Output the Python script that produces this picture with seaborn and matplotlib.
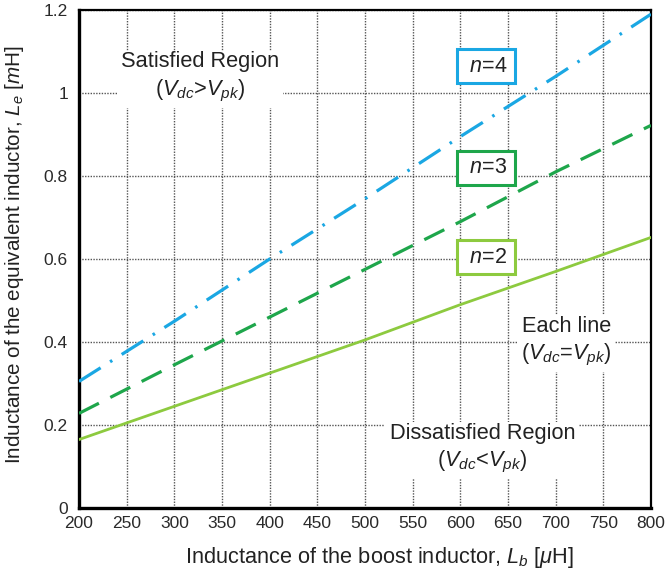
import matplotlib
matplotlib.use("Agg")
import matplotlib.pyplot as plt
import seaborn as sns
import pandas as pd

# Data
Lb = [200, 300, 400, 500, 600, 700, 800]
Le_n4 = [0.305, 0.45, 0.60, 0.745, 0.895, 1.04, 1.19]
Le_n3 = [0.228, 0.345, 0.46, 0.575, 0.69, 0.81, 0.922]
Le_n2 = [0.165, 0.245, 0.325, 0.405, 0.49, 0.57, 0.652]
x_ticks = [200, 250, 300, 350, 400, 450, 500, 550, 600, 650, 700, 750, 800]
y_ticks = [0, 0.2, 0.4, 0.6, 0.8, 1.0, 1.2]
y_tick_labels = ["0", "0.2", "0.4", "0.6", "0.8", "1", "1.2"]

sns.set_theme(style="white")
plt.rcParams['font.family'] = ['Liberation Sans', 'DejaVu Sans']
plt.rcParams['mathtext.fontset'] = 'custom'
plt.rcParams['mathtext.rm'] = 'Liberation Sans'
plt.rcParams['mathtext.it'] = 'Liberation Sans:italic'

fig = plt.figure(figsize=(6.65, 5.71), dpi=100)
ax = fig.add_axes([79/665, 63/571, 572/665, 498/571])

c4 = "#1aa7e3"
c3 = "#1ea64b"
c2 = "#8dca3f"

df4 = pd.DataFrame({"Lb": Lb, "Le": Le_n4})
df3 = pd.DataFrame({"Lb": Lb, "Le": Le_n3})
df2 = pd.DataFrame({"Lb": Lb, "Le": Le_n2})

sns.lineplot(data=df4, x="Lb", y="Le", ax=ax, color=c4, lw=2.3, zorder=3)
ax.lines[-1].set_dashes((8, 3.5, 0.8, 3.5))
sns.lineplot(data=df3, x="Lb", y="Le", ax=ax, color=c3, lw=2.3, zorder=3)
ax.lines[-1].set_dashes((7, 4))
sns.lineplot(data=df2, x="Lb", y="Le", ax=ax, color=c2, lw=2.0, zorder=3)

ax.set_xlim(200, 800)
ax.set_ylim(0, 1.2)
ax.set_xticks(x_ticks)
ax.set_yticks(y_ticks)
ax.set_yticklabels(y_tick_labels)
ax.tick_params(axis='both', labelsize=12.5, length=0, colors="#2a2a2a")
ax.tick_params(axis='x', pad=6)
ax.tick_params(axis='y', pad=8)

ax.grid(True, color="#555555", linestyle=(0, (1, 1)), linewidth=1.0, zorder=0)
for s in ax.spines.values():
    s.set_color("black")
    s.set_linewidth(1.6)
ax.spines['left'].set_linewidth(2.4)
ax.spines['bottom'].set_linewidth(2.4)

ax.set_xlabel(r"Inductance of the boost inductor, $L_b$ [$\mu$H]", fontsize=15.7,
              color="#222222")
ax.xaxis.set_label_coords(0.526, -0.074)
ax.set_ylabel(r"Inductance of the equivalent inductor, $L_e$ [$m$H]", fontsize=14.9,
              color="#222222")
ax.yaxis.set_label_coords(-0.093, 0.508)

wbox = dict(facecolor="white", edgecolor="none", pad=3)
kw = dict(ha="center", va="center", fontsize=15.7, color="#222222", bbox=wbox,
          zorder=4, linespacing=1.3)
ax.text(327, 1.037, "Satisfied Region\n" + r"($V_{dc}$>$V_{pk}$)", **kw)
ax.text(711, 0.40, "Each line\n" + r"($V_{dc}$=$V_{pk}$)", **kw)
ax.text(623, 0.142, "Dissatisfied Region\n" + r"($V_{dc}$<$V_{pk}$)", **kw)

for yy, lab, col in [(1.064, r" $n$=4 ", c4), (0.82, r" $n$=3 ", c3), (0.604, r" $n$=2 ", c2)]:
    ax.text(627, yy, lab, ha="center", va="center", fontsize=15.5, color="#222222",
            zorder=5, bbox=dict(facecolor="white", edgecolor=col, linewidth=2.2,
                                boxstyle="square,pad=0.3"))

fig.savefig("out.png", dpi=100)
